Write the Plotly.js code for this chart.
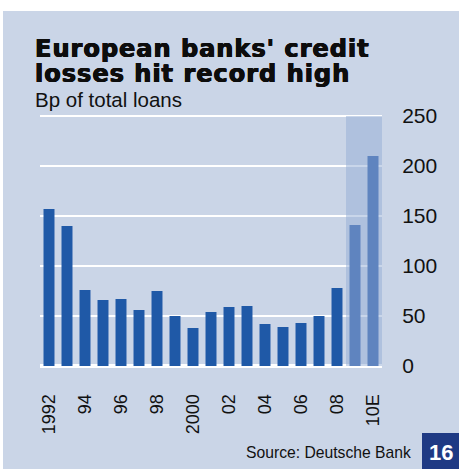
<!DOCTYPE html>
<html>
<head>
<meta charset="utf-8">
<script src="https://cdn.plot.ly/plotly-3.0.1.min.js"></script>
<style>
html,body{margin:0;padding:0;background:#ffffff;width:459px;height:469px;overflow:hidden;}
#chart{position:absolute;left:3px;top:11px;width:456px;height:458px;}
g.annotation[data-index="0"] text{letter-spacing:1px;}
</style>
</head>
<body>
<div id="chart"></div>
<script>
const years = [1992,1993,1994,1995,1996,1997,1998,1999,2000,2001,2002,2003,2004,2005,2006,2007,2008,2009,2010];
const lossesBp = [157,140,76,66,67,56,75,50,38,54,59,60,42,39,43,50,78,141,210];
const isEstimate = [false,false,false,false,false,false,false,false,false,false,false,false,false,false,false,false,false,true,true];
const tickYears = [1992,1994,1996,1998,2000,2002,2004,2006,2008,2010];
const tickLabels = ['1992','94','96','98','2000','02','04','06','08','10E'];
const yTicks = [0,50,100,150,200,250];

const actualColor = '#1f59a7';
const estColor = '#5f84bf';
const textColor = '#111111';
const FONT = 'Liberation Sans, Arial, sans-serif';

const W = 456, H = 458, L = 37, R = 77, T = 100, B = 103;
const pw = W - L - R, ph = H - T - B;
const px = x => (x - 3 - L) / pw;
const py = y => (H - B - (y - 11)) / ph;

const trace = {
  type: 'bar',
  x: years,
  y: lossesBp,
  marker: {color: isEstimate.map(e => e ? estColor : actualColor), line: {width: 0}},
  hoverinfo: 'x+y'
};

const titleFont = {family: 'DejaVu Sans, sans-serif', size: 24, color: '#0d0d0d', weight: 'bold',
                   shadow: '0.6px 0 0 #0d0d0d, -0.4px 0 0 #0d0d0d, 0 0.4px 0 #0d0d0d'};

const layout = {
  width: W, height: H,
  margin: {l: L, r: R, t: T, b: B, pad: 0},
  paper_bgcolor: '#cad5e7',
  plot_bgcolor: '#cad5e7',
  showlegend: false,
  bargap: 0.39,
  font: {family: FONT, color: textColor},
  xaxis: {
    range: [1991.5, 2010.5],
    tickvals: tickYears,
    ticktext: tickLabels,
    tickangle: -90,
    tickfont: {size: 18, family: FONT, color: textColor},
    ticks: 'outside', ticklen: 20, tickcolor: 'rgba(0,0,0,0)',
    showgrid: false, zeroline: false, showline: false, fixedrange: true
  },
  yaxis: {
    side: 'right',
    range: [0, 255],
    tickvals: yTicks,
    tickfont: {size: 21, family: FONT, color: textColor},
    ticks: 'outside', ticklen: 15, tickcolor: 'rgba(0,0,0,0)',
    showgrid: true, gridcolor: '#ffffff', gridwidth: 2,
    zeroline: true, zerolinecolor: '#ffffff', zerolinewidth: 4,
    showline: false, fixedrange: true
  },
  shapes: [
    {type: 'rect', layer: 'between', xref: 'x', yref: 'y', x0: 2008.5, x1: 2010.5, y0: 0, y1: 250,
     fillcolor: 'rgba(148,173,213,0.5)', line: {width: 0}},
    {type: 'rect', layer: 'above', xref: 'paper', yref: 'paper', x0: px(422), x1: px(459), y0: py(469), y1: py(433),
     fillcolor: '#1f3a84', line: {width: 0}}
  ],
  annotations: [
    {text: 'European banks\' credit<br>losses hit record high', xref: 'paper', yref: 'paper',
     x: px(33), y: py(33), xanchor: 'left', yanchor: 'top', align: 'left', showarrow: false,
     font: titleFont},
    {text: 'Bp of total loans', xref: 'paper', yref: 'paper',
     x: px(33), y: py(86), xanchor: 'left', yanchor: 'top', align: 'left', showarrow: false,
     font: {family: FONT, size: 20.5, color: textColor}},
    {text: 'Source: Deutsche Bank', xref: 'paper', yref: 'paper',
     x: px(413), y: py(452), xanchor: 'right', yanchor: 'middle', showarrow: false,
     font: {family: FONT, size: 15.7, color: textColor}},
    {text: '<b>16</b>', xref: 'paper', yref: 'paper',
     x: px(440.5), y: py(452), xanchor: 'center', yanchor: 'middle', showarrow: false,
     font: {family: FONT, size: 22, color: '#ffffff'}}
  ]
};

Plotly.newPlot('chart', [trace], layout, {staticPlot: true, displayModeBar: false}).then(function (gd) {
  // tighten the title's line spacing to match the reference (25px between baselines)
  const lines = gd.querySelectorAll('g.annotation[data-index="0"] text tspan.line');
  if (lines.length > 1) {
    lines[1].setAttribute('dy', '25px');
  }
});
</script>
</body>
</html>
